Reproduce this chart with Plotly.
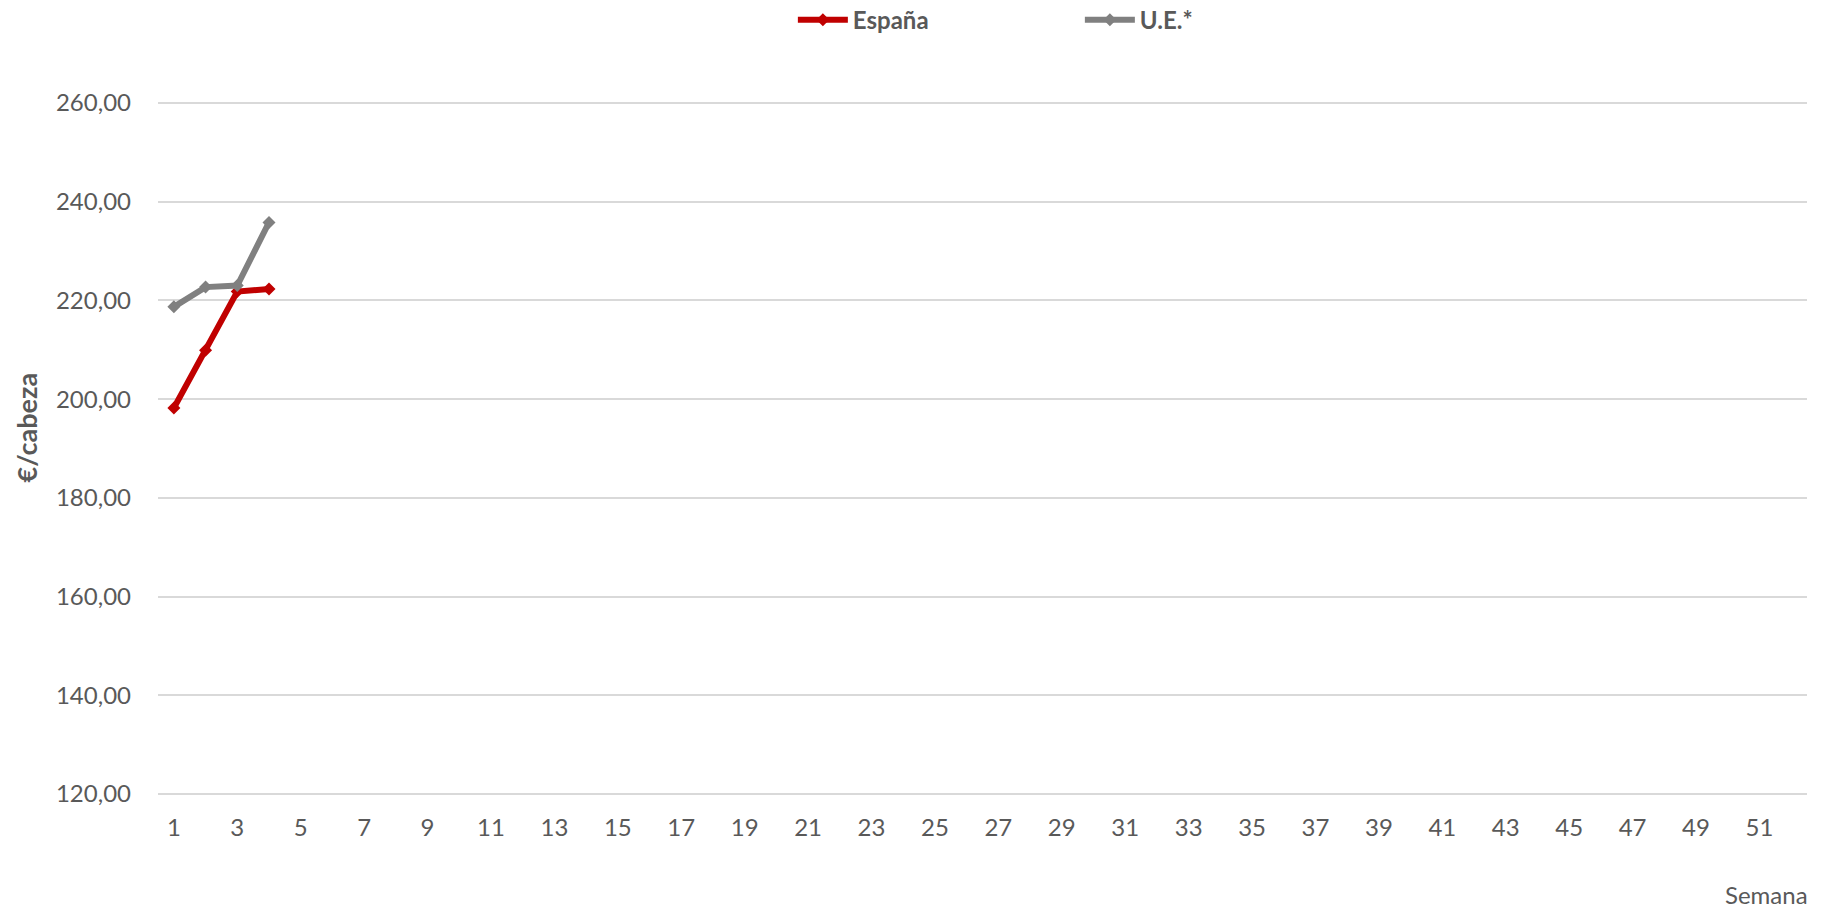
import plotly.graph_objects as go

weeks = [1, 2, 3, 4]
espana = [198.2, 209.9, 221.8, 222.3]
ue = [218.7, 222.7, 223.0, 235.8]
x_ticks = list(range(1, 52, 2))
y_ticks = [120, 140, 160, 180, 200, 220, 240, 260]

TXT = "#595959"
FONT = "Lato, 'Open Sans', sans-serif"

fig = go.Figure()
fig.add_trace(go.Scatter(x=weeks, y=espana, name="España", mode="lines+markers",
                         line=dict(color="#C00000", width=6),
                         marker=dict(symbol="diamond", size=10, color="#C00000")))
fig.add_trace(go.Scatter(x=weeks, y=ue, name="U.E.*", mode="lines+markers",
                         line=dict(color="#808080", width=6),
                         marker=dict(symbol="diamond", size=10, color="#808080")))

fig.update_layout(
    width=1821, height=914,
    margin=dict(l=158, r=14, t=101, b=118, autoexpand=False),
    plot_bgcolor="white", paper_bgcolor="white",
    font=dict(family=FONT, color=TXT, size=24),
    separators=",.",
    showlegend=True,
    legend=dict(orientation="h", x=0.385, y=0.978, xanchor="left", yanchor="middle",
                yref="container",
                font=dict(size=24, color=TXT, family=FONT, weight="bold"),
                entrywidth=222, entrywidthmode="pixels", itemwidth=50),
    xaxis=dict(range=[0.5, 52.5], tickvals=x_ticks, ticktext=[str(v) for v in x_ticks],
               showgrid=False, zeroline=False, showline=False, ticks="",
               ticklabelstandoff=15, tickfont=dict(size=24, color=TXT)),
    yaxis=dict(range=[119.6, 260.4], tickvals=y_ticks, tickformat=".2f",
               showgrid=True, gridcolor="#D9D9D9", gridwidth=1.5,
               zeroline=False, showline=False, ticks="",
               ticklabelstandoff=26, tickfont=dict(size=24, color=TXT)),
    annotations=[
        dict(text="<b>€/cabeza</b>", xref="paper", yref="paper", x=-0.0796, y=0.53,
             xanchor="center", yanchor="middle", textangle=-90, showarrow=False,
             font=dict(size=27, color=TXT, family=FONT)),
        dict(text="Semana", xref="paper", yref="paper", x=1.0018, y=-0.1655,
             xanchor="right", yanchor="bottom", showarrow=False,
             font=dict(size=24, color=TXT, family=FONT)),
    ],
)

fig.write_html("out.html", config={"displayModeBar": False},
               post_script="document.body.style.margin='0';")
